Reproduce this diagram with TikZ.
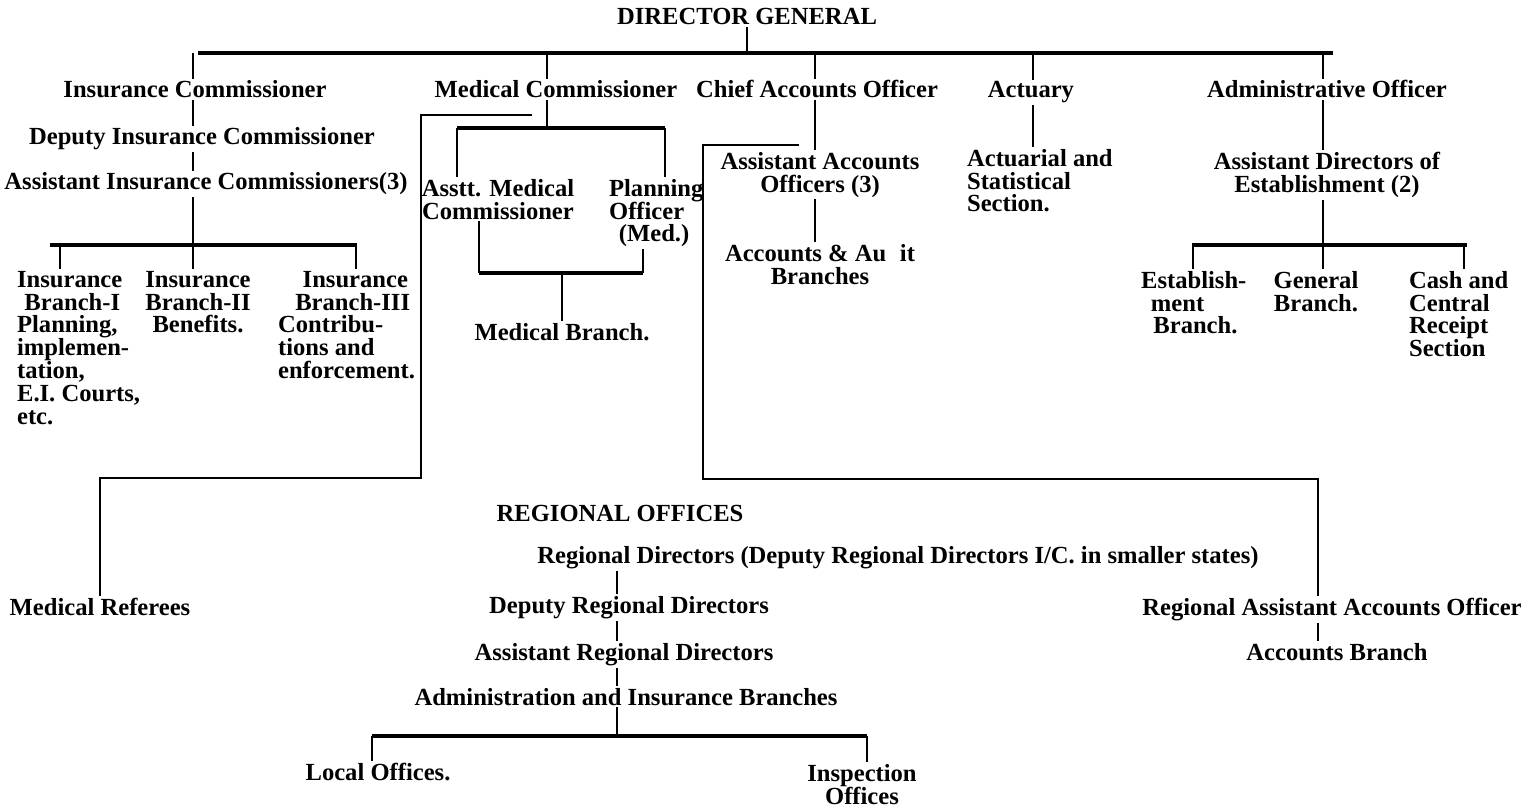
\documentclass[tikz,border=0pt]{standalone}
\usepackage{fontspec}
\setmainfont{Liberation Serif}

\begin{document}
\begin{tikzpicture}[x=0.02cm, y=-0.02cm]
    \tikzstyle{lbl} = [font=\fontsize{14}{13}\selectfont\bfseries, inner sep=1pt, anchor=base]
    \tikzstyle{blk} = [font=\fontsize{14}{13}\selectfont\bfseries, inner sep=1pt, anchor=north, align=center]
    \tikzstyle{blkl} = [blk, anchor=north west, align=left]
    \tikzstyle{bar} = [line width=2.2pt]
    \tikzstyle{link} = [line width=1.1pt]
    \tikzstyle{thin} = [line width=0.8pt]
    \useasboundingbox (0,0) rectangle (1531,807);

    % head office
    \node[lbl] (dg) at (747,25) {DIRECTOR GENERAL};
    \coordinate (topL) at (198,53);
    \coordinate (topR) at (1333,53);
    \draw[bar] (topL) -- (topR);
    \draw[link] (dg.south) -- (dg.south |- topL);

    \node[lbl] (ic) at (195,98) {Insurance Commissioner};
    \node[lbl] (mc) at (556,98) {Medical Commissioner};
    \node[lbl] (ca) at (817,98) {Chief Accounts Officer};
    \node[lbl] (act) at (1031,98) {Actuary};
    \node[lbl] (ao) at (1327,98) {Administrative Officer};

    \coordinate (icol) at (193,0);
    \coordinate (mcol) at (547,0);
    \coordinate (acol) at (815,0);
    \coordinate (tcol) at (1033,0);
    \coordinate (ocol) at (1323,0);
    \foreach \n/\c in {ic/icol, mc/mcol, ca/acol, act/tcol, ao/ocol}
        \draw[link] (\c |- topL) -- (\c |- \n.north);

    % insurance side
    \node[lbl] (dic) at (202,145) {Deputy Insurance Commissioner};
    \node[lbl] (aic) at (206,190) {Assistant Insurance Commissioners(3)};
    \draw[link] (icol |- ic.south) -- (icol |- dic.north);
    \draw[link] (icol |- dic.south) -- (icol |- aic.north);
    \coordinate (ibarL) at (50,245);
    \coordinate (ibarR) at (357,245);
    \draw[bar] (ibarL) -- (ibarR);
    \draw[link] (icol |- aic.south) -- (icol |- ibarL);
    \node[blkl] (ib1) at (15,269) {Insurance\\\hspace*{0.3em}Branch-I\\Planning,\\implemen-\\tation,\\E.I. Courts,\\etc.};
    \node[blk] (ib2) at (198,269) {Insurance\\Branch-II\\Benefits.};
    \node[blkl] (ib3) at (276,269) {\hspace*{1em}Insurance\\\hspace*{0.7em}Branch-III\\Contribu-\\tions and\\enforcement.};
    \coordinate (ib1d) at (60,0);
    \coordinate (ib3d) at (356,0);
    \foreach \n/\c in {ib1/ib1d, ib2/icol, ib3/ib3d}
        \draw[link] (\c |- ibarL) -- (\c |- \n.north);

    % medical side
    \coordinate (mbarL) at (457,128);
    \coordinate (mbarR) at (665,128);
    \draw[bar] (mbarL) -- (mbarR);
    \draw[link] (mcol |- mc.south) -- (mcol |- mbarL);
    \node[blk] (amc) at (498,177) {Asstt. Medical\\Commissioner};
    \node[blkl] (po) at (607,177) {Planning\\Officer\\\hspace*{0.4em}(Med.)};
    \draw[link] (mbarL) -- (mbarL |- amc.north);
    \draw[link] (mbarR) -- (mbarR |- po.north);
    \coordinate (mb2L) at (479,273);
    \coordinate (mb2R) at (643,273);
    \draw[bar] (mb2L) -- (mb2R);
    \draw[link] (mb2L |- amc.south) -- (mb2L);
    \draw[link] (mb2R |- po.south) -- (mb2R);
    \node[lbl] (mb) at (562,340) {Medical Branch.};
    \draw[link] (mb.north) -- (mb.north |- mb2L);

    \node[lbl] (mr) at (100,615) {Medical Referees};
    \coordinate (mrA) at (532,115);
    \coordinate (mrB) at (421,478);
    \draw[thin] (mrA) -| (mrB) -| (mr.north);

    % accounts
    \node[blk] (aao) at (820,150) {Assistant Accounts\\Officers (3)};
    \node[blk] (aab) at (820,242) {Accounts \& Au\phantom{d}it\\Branches};
    \draw[link] (acol |- ca.south) -- (acol |- aao.north);
    \draw[link] (acol |- aao.south) -- (acol |- aab.north);

    \coordinate (raA) at (799,145);
    \coordinate (raB) at (703,479);
    \coordinate (racol) at (1318,0);
    \node[lbl] (raao) at (1332,615) {Regional Assistant Accounts Officer};
    \node[lbl] (rab) at (1337,660) {Accounts Branch};
    \draw[thin] (raA) -| (raB) -| (racol |- raao.north);
    \draw[link] (racol |- raao.south) -- (racol |- rab.north);

    % actuary
    \node[blkl] (ass) at (965,147) {Actuarial and\\Statistical\\Section.};
    \draw[link] (tcol |- act.south) -- (tcol |- ass.north);

    % administration
    \node[blk] (ado) at (1327,150) {Assistant Directors of\\Establishment (2)};
    \draw[link] (ocol |- ao.south) -- (ocol |- ado.north);
    \coordinate (abarL) at (1192,245);
    \coordinate (abarR) at (1467,245);
    \draw[bar] (abarL) -- (abarR);
    \draw[link] (ocol |- ado.south) -- (ocol |- abarL);
    \node[blkl] (eb) at (1139,269) {Establish-\\\hspace*{0.4em}ment\\\hspace*{0.5em}Branch.};
    \node[blk] (gb) at (1316,269) {General\\Branch.};
    \node[blkl] (cb) at (1407,269) {Cash and\\Central\\Receipt\\Section};
    \coordinate (ebd) at (1193,0);
    \coordinate (cbd) at (1464,0);
    \foreach \n/\c in {eb/ebd, gb/ocol, cb/cbd}
        \draw[link] (\c |- abarL) -- (\c |- \n.north);

    % regional offices
    \node[lbl] (ro) at (620,521) {REGIONAL OFFICES};
    \node[lbl] (rd) at (898,563) {Regional Directors (Deputy Regional Directors I/C.\ in smaller states)};
    \coordinate (rcol) at (617,0);
    \node[lbl] (drd) at (629,613) {Deputy Regional Directors};
    \node[lbl] (ard) at (624,660) {Assistant Regional Directors};
    \node[lbl] (aib) at (626,705) {Administration and Insurance Branches};
    \draw[link] (rcol |- rd.south) -- (rcol |- drd.north);
    \draw[link] (rcol |- drd.south) -- (rcol |- ard.north);
    \draw[link] (rcol |- ard.south) -- (rcol |- aib.north);

    \coordinate (lbarL) at (372,736);
    \coordinate (lbarR) at (867,736);
    \draw[bar] (lbarL) -- (lbarR);
    \draw[link] (rcol |- aib.south) -- (rcol |- lbarL);
    \node[lbl] (lo) at (378,780) {Local Offices.};
    \node[blk] (io) at (862,762) {Inspection\\Offices};
    \draw[link] (lbarL) -- (lbarL |- lo.north);
    \draw[link] (lbarR) -- (lbarR |- io.north);
\end{tikzpicture}
\end{document}
